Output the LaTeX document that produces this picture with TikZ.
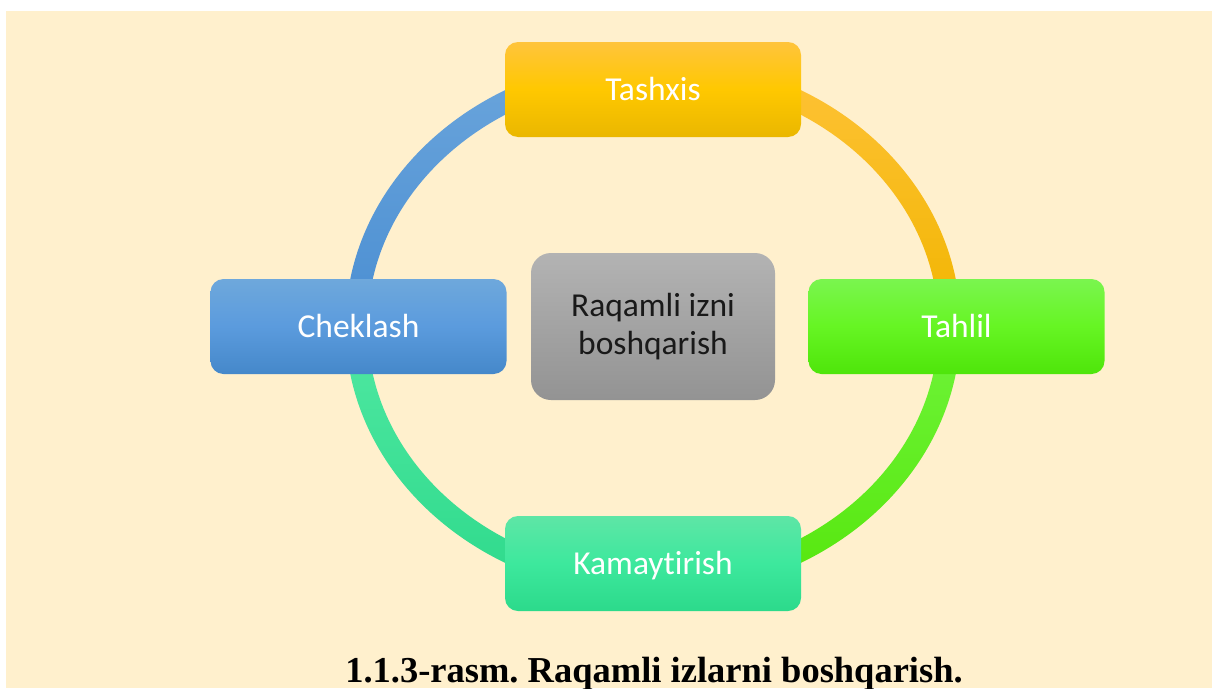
\documentclass[tikz,border=0pt]{standalone}
\usepackage{fontspec}
\setmainfont{Carlito}[Ligatures={NoCommon}]
\newfontfamily\capfont{Liberation Serif}
\frenchspacing
\definecolor{cream}{HTML}{FFF0CD}
\definecolor{ylT}{HTML}{FFC43C}\definecolor{ylM}{HTML}{FFC800}\definecolor{ylB}{HTML}{EAB700}
\definecolor{grT}{HTML}{7AF54F}\definecolor{grM}{HTML}{66F523}\definecolor{grB}{HTML}{4EE50A}
\definecolor{tqT}{HTML}{5EE6A6}\definecolor{tqM}{HTML}{3DE89D}\definecolor{tqB}{HTML}{2CDA8B}
\definecolor{blT}{HTML}{6EA8DC}\definecolor{blM}{HTML}{5B9BDD}\definecolor{blB}{HTML}{4588CA}
\definecolor{gyT}{HTML}{B3B3B3}\definecolor{gyB}{HTML}{939393}
\definecolor{rYT}{HTML}{FFC33A}\definecolor{rYB}{HTML}{F1B500}
\definecolor{rGT}{HTML}{6FF43A}\definecolor{rGB}{HTML}{55E60B}
\definecolor{rTT}{HTML}{50E8A2}\definecolor{rTB}{HTML}{2DD98B}
\definecolor{rBT}{HTML}{6CA6DC}\definecolor{rBB}{HTML}{4A8ED2}
\begin{document}
\begin{tikzpicture}[x=1pt,y=-1pt,
  box/.style={rounded corners=13pt, minimum width=296pt, minimum height=95pt,
    inner sep=0pt, font=\fontsize{33.5}{38}\selectfont, text=white,
    text height=21.6pt, text depth=0pt},
  centerbox/.style={rounded corners=20pt, minimum width=244pt, minimum height=147pt,
    inner sep=0pt, font=\fontsize{33.5}{38}\selectfont, text=black!90,
    align=center, top color=gyT, bottom color=gyB},
  caption/.style={font=\capfont\bfseries\fontsize{36.5}{40}\selectfont, text=black, anchor=base, inner sep=0pt}
]
\useasboundingbox (0,0) rectangle (1212,688);
\fill[white] (0,0) rectangle (1212,688);
\fill[cream] (6,11) rectangle (1212,688);
% ring
\begin{scope}[even odd rule]
  \clip (653,326.5) ellipse [x radius=307.5, y radius=269.5]
        (653,326.5) ellipse [x radius=285.5, y radius=247.5];
  \shade[top color=rYT, bottom color=rYB] (653,50) rectangle (970,326.5);
  \shade[top color=rGT, bottom color=rGB] (653,326.5) rectangle (970,600);
  \shade[top color=rTT, bottom color=rTB] (336,326.5) rectangle (653,600);
  \shade[top color=rBT, bottom color=rBB] (336,50) rectangle (653,326.5);
\end{scope}
% boxes
\node[box, top color=ylT, bottom color=ylB, middle color=ylM] (tashxis) at (653,89.5) {Tashxis};
\node[box, top color=grT, bottom color=grB, middle color=grM] (tahlil) at (956.5,326.5) {Tahlil};
\node[box, top color=tqT, bottom color=tqB, middle color=tqM] (kamay) at (653,563.5) {Kamaytirish};
\node[box, top color=blT, bottom color=blB, middle color=blM] (cheklash) at (358.5,326.5) {Cheklash};
\node[centerbox] (center) at (653,326.5) {Raqamli izni\\boshqarish};
% caption
\node[caption] (cap) at (654,682) {1.1.3-rasm. Raqamli izlarni boshqarish.};
\end{tikzpicture}
\end{document}
